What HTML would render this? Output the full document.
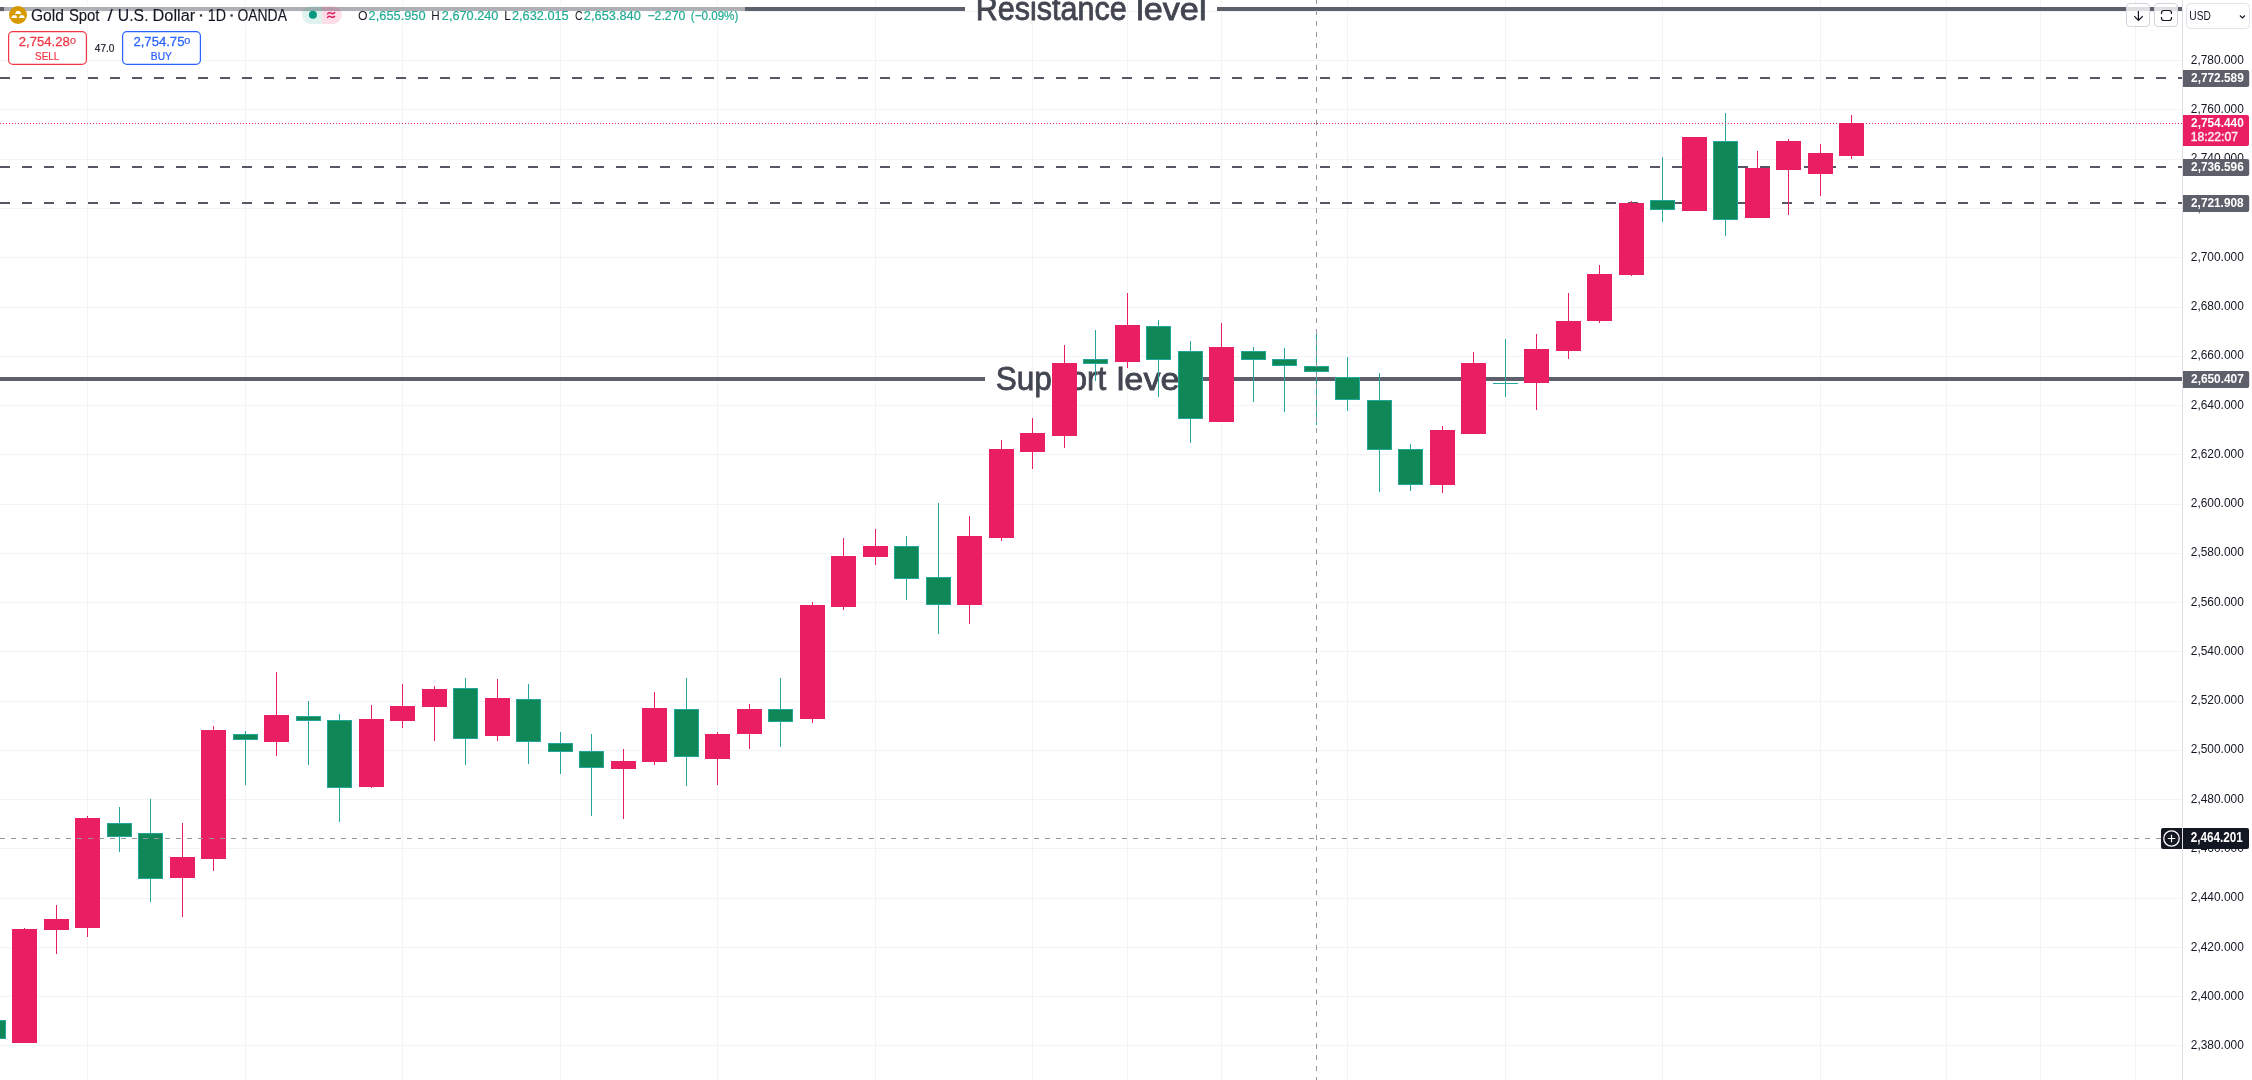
<!DOCTYPE html>
<html><head><meta charset="utf-8"><title>XAUUSD</title>
<style>html,body{margin:0;padding:0;background:#fff;overflow:hidden}body{width:2252px;height:1080px}svg{display:block;font-family:"Liberation Sans",sans-serif;will-change:transform}.c{shape-rendering:crispEdges}</style></head><body>
<svg width="2252" height="1080" viewBox="0 0 2252 1080">
<rect width="2252" height="1080" fill="#fff"/>
<g class="c" fill="#f2f3f3">
<rect x="87" y="0" width="1" height="1080"/>
<rect x="245" y="0" width="1" height="1080"/>
<rect x="402" y="0" width="1" height="1080"/>
<rect x="560" y="0" width="1" height="1080"/>
<rect x="717" y="0" width="1" height="1080"/>
<rect x="875" y="0" width="1" height="1080"/>
<rect x="1032" y="0" width="1" height="1080"/>
<rect x="1127" y="0" width="1" height="1080"/>
<rect x="1221" y="0" width="1" height="1080"/>
<rect x="1347" y="0" width="1" height="1080"/>
<rect x="1505" y="0" width="1" height="1080"/>
<rect x="1662" y="0" width="1" height="1080"/>
<rect x="1820" y="0" width="1" height="1080"/>
<rect x="1946" y="0" width="1" height="1080"/>
<rect x="2040" y="0" width="1" height="1080"/>
<rect x="2135" y="0" width="1" height="1080"/>
<rect x="0" y="11" width="2182" height="1"/>
<rect x="0" y="60" width="2182" height="1"/>
<rect x="0" y="109" width="2182" height="1"/>
<rect x="0" y="159" width="2182" height="1"/>
<rect x="0" y="208" width="2182" height="1"/>
<rect x="0" y="257" width="2182" height="1"/>
<rect x="0" y="307" width="2182" height="1"/>
<rect x="0" y="356" width="2182" height="1"/>
<rect x="0" y="405" width="2182" height="1"/>
<rect x="0" y="454" width="2182" height="1"/>
<rect x="0" y="504" width="2182" height="1"/>
<rect x="0" y="553" width="2182" height="1"/>
<rect x="0" y="602" width="2182" height="1"/>
<rect x="0" y="651" width="2182" height="1"/>
<rect x="0" y="701" width="2182" height="1"/>
<rect x="0" y="750" width="2182" height="1"/>
<rect x="0" y="799" width="2182" height="1"/>
<rect x="0" y="848" width="2182" height="1"/>
<rect x="0" y="898" width="2182" height="1"/>
<rect x="0" y="947" width="2182" height="1"/>
<rect x="0" y="996" width="2182" height="1"/>
<rect x="0" y="1045" width="2182" height="1"/>
</g>
<g class="c" fill="#5d606b">
<rect x="0" y="7" width="965" height="4"/>
<rect x="1217" y="7" width="965" height="4"/>
<rect x="0" y="377" width="985" height="4"/>
<rect x="1197" y="377" width="985" height="4"/>
</g>
<g class="c" fill="#555864">
<rect x="0" y="77" width="10" height="2"/>
<rect x="22" y="77" width="10" height="2"/>
<rect x="44" y="77" width="10" height="2"/>
<rect x="66" y="77" width="10" height="2"/>
<rect x="88" y="77" width="10" height="2"/>
<rect x="110" y="77" width="10" height="2"/>
<rect x="132" y="77" width="10" height="2"/>
<rect x="154" y="77" width="10" height="2"/>
<rect x="176" y="77" width="10" height="2"/>
<rect x="198" y="77" width="10" height="2"/>
<rect x="220" y="77" width="10" height="2"/>
<rect x="242" y="77" width="10" height="2"/>
<rect x="264" y="77" width="10" height="2"/>
<rect x="286" y="77" width="10" height="2"/>
<rect x="308" y="77" width="10" height="2"/>
<rect x="330" y="77" width="10" height="2"/>
<rect x="352" y="77" width="10" height="2"/>
<rect x="374" y="77" width="10" height="2"/>
<rect x="396" y="77" width="10" height="2"/>
<rect x="418" y="77" width="10" height="2"/>
<rect x="440" y="77" width="10" height="2"/>
<rect x="462" y="77" width="10" height="2"/>
<rect x="484" y="77" width="10" height="2"/>
<rect x="506" y="77" width="10" height="2"/>
<rect x="528" y="77" width="10" height="2"/>
<rect x="550" y="77" width="10" height="2"/>
<rect x="572" y="77" width="10" height="2"/>
<rect x="594" y="77" width="10" height="2"/>
<rect x="616" y="77" width="10" height="2"/>
<rect x="638" y="77" width="10" height="2"/>
<rect x="660" y="77" width="10" height="2"/>
<rect x="682" y="77" width="10" height="2"/>
<rect x="704" y="77" width="10" height="2"/>
<rect x="726" y="77" width="10" height="2"/>
<rect x="748" y="77" width="10" height="2"/>
<rect x="770" y="77" width="10" height="2"/>
<rect x="792" y="77" width="10" height="2"/>
<rect x="814" y="77" width="10" height="2"/>
<rect x="836" y="77" width="10" height="2"/>
<rect x="858" y="77" width="10" height="2"/>
<rect x="880" y="77" width="10" height="2"/>
<rect x="902" y="77" width="10" height="2"/>
<rect x="924" y="77" width="10" height="2"/>
<rect x="946" y="77" width="10" height="2"/>
<rect x="968" y="77" width="10" height="2"/>
<rect x="990" y="77" width="10" height="2"/>
<rect x="1012" y="77" width="10" height="2"/>
<rect x="1034" y="77" width="10" height="2"/>
<rect x="1056" y="77" width="10" height="2"/>
<rect x="1078" y="77" width="10" height="2"/>
<rect x="1100" y="77" width="10" height="2"/>
<rect x="1122" y="77" width="10" height="2"/>
<rect x="1144" y="77" width="10" height="2"/>
<rect x="1166" y="77" width="10" height="2"/>
<rect x="1188" y="77" width="10" height="2"/>
<rect x="1210" y="77" width="10" height="2"/>
<rect x="1232" y="77" width="10" height="2"/>
<rect x="1254" y="77" width="10" height="2"/>
<rect x="1276" y="77" width="10" height="2"/>
<rect x="1298" y="77" width="10" height="2"/>
<rect x="1320" y="77" width="10" height="2"/>
<rect x="1342" y="77" width="10" height="2"/>
<rect x="1364" y="77" width="10" height="2"/>
<rect x="1386" y="77" width="10" height="2"/>
<rect x="1408" y="77" width="10" height="2"/>
<rect x="1430" y="77" width="10" height="2"/>
<rect x="1452" y="77" width="10" height="2"/>
<rect x="1474" y="77" width="10" height="2"/>
<rect x="1496" y="77" width="10" height="2"/>
<rect x="1518" y="77" width="10" height="2"/>
<rect x="1540" y="77" width="10" height="2"/>
<rect x="1562" y="77" width="10" height="2"/>
<rect x="1584" y="77" width="10" height="2"/>
<rect x="1606" y="77" width="10" height="2"/>
<rect x="1628" y="77" width="10" height="2"/>
<rect x="1650" y="77" width="10" height="2"/>
<rect x="1672" y="77" width="10" height="2"/>
<rect x="1694" y="77" width="10" height="2"/>
<rect x="1716" y="77" width="10" height="2"/>
<rect x="1738" y="77" width="10" height="2"/>
<rect x="1760" y="77" width="10" height="2"/>
<rect x="1782" y="77" width="10" height="2"/>
<rect x="1804" y="77" width="10" height="2"/>
<rect x="1826" y="77" width="10" height="2"/>
<rect x="1848" y="77" width="10" height="2"/>
<rect x="1870" y="77" width="10" height="2"/>
<rect x="1892" y="77" width="10" height="2"/>
<rect x="1914" y="77" width="10" height="2"/>
<rect x="1936" y="77" width="10" height="2"/>
<rect x="1958" y="77" width="10" height="2"/>
<rect x="1980" y="77" width="10" height="2"/>
<rect x="2002" y="77" width="10" height="2"/>
<rect x="2024" y="77" width="10" height="2"/>
<rect x="2046" y="77" width="10" height="2"/>
<rect x="2068" y="77" width="10" height="2"/>
<rect x="2090" y="77" width="10" height="2"/>
<rect x="2112" y="77" width="10" height="2"/>
<rect x="2134" y="77" width="10" height="2"/>
<rect x="2156" y="77" width="10" height="2"/>
<rect x="2178" y="77" width="4" height="2"/>
<rect x="0" y="166" width="10" height="2"/>
<rect x="22" y="166" width="10" height="2"/>
<rect x="44" y="166" width="10" height="2"/>
<rect x="66" y="166" width="10" height="2"/>
<rect x="88" y="166" width="10" height="2"/>
<rect x="110" y="166" width="10" height="2"/>
<rect x="132" y="166" width="10" height="2"/>
<rect x="154" y="166" width="10" height="2"/>
<rect x="176" y="166" width="10" height="2"/>
<rect x="198" y="166" width="10" height="2"/>
<rect x="220" y="166" width="10" height="2"/>
<rect x="242" y="166" width="10" height="2"/>
<rect x="264" y="166" width="10" height="2"/>
<rect x="286" y="166" width="10" height="2"/>
<rect x="308" y="166" width="10" height="2"/>
<rect x="330" y="166" width="10" height="2"/>
<rect x="352" y="166" width="10" height="2"/>
<rect x="374" y="166" width="10" height="2"/>
<rect x="396" y="166" width="10" height="2"/>
<rect x="418" y="166" width="10" height="2"/>
<rect x="440" y="166" width="10" height="2"/>
<rect x="462" y="166" width="10" height="2"/>
<rect x="484" y="166" width="10" height="2"/>
<rect x="506" y="166" width="10" height="2"/>
<rect x="528" y="166" width="10" height="2"/>
<rect x="550" y="166" width="10" height="2"/>
<rect x="572" y="166" width="10" height="2"/>
<rect x="594" y="166" width="10" height="2"/>
<rect x="616" y="166" width="10" height="2"/>
<rect x="638" y="166" width="10" height="2"/>
<rect x="660" y="166" width="10" height="2"/>
<rect x="682" y="166" width="10" height="2"/>
<rect x="704" y="166" width="10" height="2"/>
<rect x="726" y="166" width="10" height="2"/>
<rect x="748" y="166" width="10" height="2"/>
<rect x="770" y="166" width="10" height="2"/>
<rect x="792" y="166" width="10" height="2"/>
<rect x="814" y="166" width="10" height="2"/>
<rect x="836" y="166" width="10" height="2"/>
<rect x="858" y="166" width="10" height="2"/>
<rect x="880" y="166" width="10" height="2"/>
<rect x="902" y="166" width="10" height="2"/>
<rect x="924" y="166" width="10" height="2"/>
<rect x="946" y="166" width="10" height="2"/>
<rect x="968" y="166" width="10" height="2"/>
<rect x="990" y="166" width="10" height="2"/>
<rect x="1012" y="166" width="10" height="2"/>
<rect x="1034" y="166" width="10" height="2"/>
<rect x="1056" y="166" width="10" height="2"/>
<rect x="1078" y="166" width="10" height="2"/>
<rect x="1100" y="166" width="10" height="2"/>
<rect x="1122" y="166" width="10" height="2"/>
<rect x="1144" y="166" width="10" height="2"/>
<rect x="1166" y="166" width="10" height="2"/>
<rect x="1188" y="166" width="10" height="2"/>
<rect x="1210" y="166" width="10" height="2"/>
<rect x="1232" y="166" width="10" height="2"/>
<rect x="1254" y="166" width="10" height="2"/>
<rect x="1276" y="166" width="10" height="2"/>
<rect x="1298" y="166" width="10" height="2"/>
<rect x="1320" y="166" width="10" height="2"/>
<rect x="1342" y="166" width="10" height="2"/>
<rect x="1364" y="166" width="10" height="2"/>
<rect x="1386" y="166" width="10" height="2"/>
<rect x="1408" y="166" width="10" height="2"/>
<rect x="1430" y="166" width="10" height="2"/>
<rect x="1452" y="166" width="10" height="2"/>
<rect x="1474" y="166" width="10" height="2"/>
<rect x="1496" y="166" width="10" height="2"/>
<rect x="1518" y="166" width="10" height="2"/>
<rect x="1540" y="166" width="10" height="2"/>
<rect x="1562" y="166" width="10" height="2"/>
<rect x="1584" y="166" width="10" height="2"/>
<rect x="1606" y="166" width="10" height="2"/>
<rect x="1628" y="166" width="10" height="2"/>
<rect x="1650" y="166" width="10" height="2"/>
<rect x="1672" y="166" width="10" height="2"/>
<rect x="1694" y="166" width="10" height="2"/>
<rect x="1716" y="166" width="10" height="2"/>
<rect x="1738" y="166" width="10" height="2"/>
<rect x="1760" y="166" width="10" height="2"/>
<rect x="1782" y="166" width="10" height="2"/>
<rect x="1804" y="166" width="10" height="2"/>
<rect x="1826" y="166" width="10" height="2"/>
<rect x="1848" y="166" width="10" height="2"/>
<rect x="1870" y="166" width="10" height="2"/>
<rect x="1892" y="166" width="10" height="2"/>
<rect x="1914" y="166" width="10" height="2"/>
<rect x="1936" y="166" width="10" height="2"/>
<rect x="1958" y="166" width="10" height="2"/>
<rect x="1980" y="166" width="10" height="2"/>
<rect x="2002" y="166" width="10" height="2"/>
<rect x="2024" y="166" width="10" height="2"/>
<rect x="2046" y="166" width="10" height="2"/>
<rect x="2068" y="166" width="10" height="2"/>
<rect x="2090" y="166" width="10" height="2"/>
<rect x="2112" y="166" width="10" height="2"/>
<rect x="2134" y="166" width="10" height="2"/>
<rect x="2156" y="166" width="10" height="2"/>
<rect x="2178" y="166" width="4" height="2"/>
<rect x="0" y="202" width="10" height="2"/>
<rect x="22" y="202" width="10" height="2"/>
<rect x="44" y="202" width="10" height="2"/>
<rect x="66" y="202" width="10" height="2"/>
<rect x="88" y="202" width="10" height="2"/>
<rect x="110" y="202" width="10" height="2"/>
<rect x="132" y="202" width="10" height="2"/>
<rect x="154" y="202" width="10" height="2"/>
<rect x="176" y="202" width="10" height="2"/>
<rect x="198" y="202" width="10" height="2"/>
<rect x="220" y="202" width="10" height="2"/>
<rect x="242" y="202" width="10" height="2"/>
<rect x="264" y="202" width="10" height="2"/>
<rect x="286" y="202" width="10" height="2"/>
<rect x="308" y="202" width="10" height="2"/>
<rect x="330" y="202" width="10" height="2"/>
<rect x="352" y="202" width="10" height="2"/>
<rect x="374" y="202" width="10" height="2"/>
<rect x="396" y="202" width="10" height="2"/>
<rect x="418" y="202" width="10" height="2"/>
<rect x="440" y="202" width="10" height="2"/>
<rect x="462" y="202" width="10" height="2"/>
<rect x="484" y="202" width="10" height="2"/>
<rect x="506" y="202" width="10" height="2"/>
<rect x="528" y="202" width="10" height="2"/>
<rect x="550" y="202" width="10" height="2"/>
<rect x="572" y="202" width="10" height="2"/>
<rect x="594" y="202" width="10" height="2"/>
<rect x="616" y="202" width="10" height="2"/>
<rect x="638" y="202" width="10" height="2"/>
<rect x="660" y="202" width="10" height="2"/>
<rect x="682" y="202" width="10" height="2"/>
<rect x="704" y="202" width="10" height="2"/>
<rect x="726" y="202" width="10" height="2"/>
<rect x="748" y="202" width="10" height="2"/>
<rect x="770" y="202" width="10" height="2"/>
<rect x="792" y="202" width="10" height="2"/>
<rect x="814" y="202" width="10" height="2"/>
<rect x="836" y="202" width="10" height="2"/>
<rect x="858" y="202" width="10" height="2"/>
<rect x="880" y="202" width="10" height="2"/>
<rect x="902" y="202" width="10" height="2"/>
<rect x="924" y="202" width="10" height="2"/>
<rect x="946" y="202" width="10" height="2"/>
<rect x="968" y="202" width="10" height="2"/>
<rect x="990" y="202" width="10" height="2"/>
<rect x="1012" y="202" width="10" height="2"/>
<rect x="1034" y="202" width="10" height="2"/>
<rect x="1056" y="202" width="10" height="2"/>
<rect x="1078" y="202" width="10" height="2"/>
<rect x="1100" y="202" width="10" height="2"/>
<rect x="1122" y="202" width="10" height="2"/>
<rect x="1144" y="202" width="10" height="2"/>
<rect x="1166" y="202" width="10" height="2"/>
<rect x="1188" y="202" width="10" height="2"/>
<rect x="1210" y="202" width="10" height="2"/>
<rect x="1232" y="202" width="10" height="2"/>
<rect x="1254" y="202" width="10" height="2"/>
<rect x="1276" y="202" width="10" height="2"/>
<rect x="1298" y="202" width="10" height="2"/>
<rect x="1320" y="202" width="10" height="2"/>
<rect x="1342" y="202" width="10" height="2"/>
<rect x="1364" y="202" width="10" height="2"/>
<rect x="1386" y="202" width="10" height="2"/>
<rect x="1408" y="202" width="10" height="2"/>
<rect x="1430" y="202" width="10" height="2"/>
<rect x="1452" y="202" width="10" height="2"/>
<rect x="1474" y="202" width="10" height="2"/>
<rect x="1496" y="202" width="10" height="2"/>
<rect x="1518" y="202" width="10" height="2"/>
<rect x="1540" y="202" width="10" height="2"/>
<rect x="1562" y="202" width="10" height="2"/>
<rect x="1584" y="202" width="10" height="2"/>
<rect x="1606" y="202" width="10" height="2"/>
<rect x="1628" y="202" width="10" height="2"/>
<rect x="1650" y="202" width="10" height="2"/>
<rect x="1672" y="202" width="10" height="2"/>
<rect x="1694" y="202" width="10" height="2"/>
<rect x="1716" y="202" width="10" height="2"/>
<rect x="1738" y="202" width="10" height="2"/>
<rect x="1760" y="202" width="10" height="2"/>
<rect x="1782" y="202" width="10" height="2"/>
<rect x="1804" y="202" width="10" height="2"/>
<rect x="1826" y="202" width="10" height="2"/>
<rect x="1848" y="202" width="10" height="2"/>
<rect x="1870" y="202" width="10" height="2"/>
<rect x="1892" y="202" width="10" height="2"/>
<rect x="1914" y="202" width="10" height="2"/>
<rect x="1936" y="202" width="10" height="2"/>
<rect x="1958" y="202" width="10" height="2"/>
<rect x="1980" y="202" width="10" height="2"/>
<rect x="2002" y="202" width="10" height="2"/>
<rect x="2024" y="202" width="10" height="2"/>
<rect x="2046" y="202" width="10" height="2"/>
<rect x="2068" y="202" width="10" height="2"/>
<rect x="2090" y="202" width="10" height="2"/>
<rect x="2112" y="202" width="10" height="2"/>
<rect x="2134" y="202" width="10" height="2"/>
<rect x="2156" y="202" width="10" height="2"/>
<rect x="2178" y="202" width="4" height="2"/>
</g>
<text transform="translate(975.76 19.60) scale(0.15254 0.16667)" font-size="200" fill="#434651" stroke="#434651" stroke-width="5">Resistance</text>
<text transform="translate(1136.18 19.60) scale(0.17098 0.15862)" font-size="200" fill="#434651" stroke="#434651" stroke-width="5">level</text>
<text transform="translate(995.78 390.00) scale(0.15774 0.16429)" font-size="200" fill="#434651" stroke="#434651" stroke-width="5">Support</text>
<text transform="translate(1116.78 390.00) scale(0.17098 0.16138)" font-size="200" fill="#434651" stroke="#434651" stroke-width="5">level</text>
<g class="c">
<rect x="-7" y="1020" width="1" height="19" fill="#26a69a"/>
<rect x="-19" y="1020" width="25" height="19" fill="#26a69a"/>
<rect x="-18" y="1021" width="23" height="17" fill="#0f8756"/>
<rect x="24" y="928" width="1" height="115" fill="#e91e63"/>
<rect x="12" y="929" width="25" height="114" fill="#e91e63"/>
<rect x="56" y="905" width="1" height="49" fill="#e91e63"/>
<rect x="44" y="919" width="25" height="11" fill="#e91e63"/>
<rect x="87" y="816" width="1" height="121" fill="#e91e63"/>
<rect x="75" y="818" width="25" height="110" fill="#e91e63"/>
<rect x="119" y="807" width="1" height="45" fill="#26a69a"/>
<rect x="107" y="823" width="25" height="14" fill="#26a69a"/>
<rect x="108" y="824" width="23" height="12" fill="#0f8756"/>
<rect x="150" y="799" width="1" height="103" fill="#26a69a"/>
<rect x="138" y="833" width="25" height="46" fill="#26a69a"/>
<rect x="139" y="834" width="23" height="44" fill="#0f8756"/>
<rect x="182" y="823" width="1" height="94" fill="#e91e63"/>
<rect x="170" y="857" width="25" height="21" fill="#e91e63"/>
<rect x="213" y="726" width="1" height="145" fill="#e91e63"/>
<rect x="201" y="730" width="25" height="129" fill="#e91e63"/>
<rect x="245" y="731" width="1" height="54" fill="#26a69a"/>
<rect x="233" y="734" width="25" height="6" fill="#26a69a"/>
<rect x="234" y="735" width="23" height="4" fill="#0f8756"/>
<rect x="276" y="672" width="1" height="84" fill="#e91e63"/>
<rect x="264" y="715" width="25" height="27" fill="#e91e63"/>
<rect x="308" y="701" width="1" height="64" fill="#26a69a"/>
<rect x="296" y="716" width="25" height="5" fill="#26a69a"/>
<rect x="297" y="717" width="23" height="3" fill="#0f8756"/>
<rect x="339" y="714" width="1" height="108" fill="#26a69a"/>
<rect x="327" y="720" width="25" height="68" fill="#26a69a"/>
<rect x="328" y="721" width="23" height="66" fill="#0f8756"/>
<rect x="371" y="705" width="1" height="83" fill="#e91e63"/>
<rect x="359" y="719" width="25" height="68" fill="#e91e63"/>
<rect x="402" y="684" width="1" height="44" fill="#e91e63"/>
<rect x="390" y="706" width="25" height="15" fill="#e91e63"/>
<rect x="434" y="686" width="1" height="55" fill="#e91e63"/>
<rect x="422" y="689" width="25" height="18" fill="#e91e63"/>
<rect x="465" y="678" width="1" height="87" fill="#26a69a"/>
<rect x="453" y="688" width="25" height="51" fill="#26a69a"/>
<rect x="454" y="689" width="23" height="49" fill="#0f8756"/>
<rect x="497" y="679" width="1" height="62" fill="#e91e63"/>
<rect x="485" y="698" width="25" height="38" fill="#e91e63"/>
<rect x="528" y="684" width="1" height="80" fill="#26a69a"/>
<rect x="516" y="699" width="25" height="43" fill="#26a69a"/>
<rect x="517" y="700" width="23" height="41" fill="#0f8756"/>
<rect x="560" y="732" width="1" height="42" fill="#26a69a"/>
<rect x="548" y="743" width="25" height="9" fill="#26a69a"/>
<rect x="549" y="744" width="23" height="7" fill="#0f8756"/>
<rect x="591" y="734" width="1" height="82" fill="#26a69a"/>
<rect x="579" y="751" width="25" height="17" fill="#26a69a"/>
<rect x="580" y="752" width="23" height="15" fill="#0f8756"/>
<rect x="623" y="749" width="1" height="70" fill="#e91e63"/>
<rect x="611" y="761" width="25" height="8" fill="#e91e63"/>
<rect x="654" y="692" width="1" height="73" fill="#e91e63"/>
<rect x="642" y="708" width="25" height="54" fill="#e91e63"/>
<rect x="686" y="678" width="1" height="108" fill="#26a69a"/>
<rect x="674" y="709" width="25" height="48" fill="#26a69a"/>
<rect x="675" y="710" width="23" height="46" fill="#0f8756"/>
<rect x="717" y="732" width="1" height="53" fill="#e91e63"/>
<rect x="705" y="734" width="25" height="25" fill="#e91e63"/>
<rect x="749" y="704" width="1" height="45" fill="#e91e63"/>
<rect x="737" y="709" width="25" height="25" fill="#e91e63"/>
<rect x="780" y="678" width="1" height="69" fill="#26a69a"/>
<rect x="768" y="709" width="25" height="13" fill="#26a69a"/>
<rect x="769" y="710" width="23" height="11" fill="#0f8756"/>
<rect x="812" y="602" width="1" height="121" fill="#e91e63"/>
<rect x="800" y="605" width="25" height="114" fill="#e91e63"/>
<rect x="843" y="538" width="1" height="72" fill="#e91e63"/>
<rect x="831" y="556" width="25" height="51" fill="#e91e63"/>
<rect x="875" y="529" width="1" height="36" fill="#e91e63"/>
<rect x="863" y="546" width="25" height="11" fill="#e91e63"/>
<rect x="906" y="536" width="1" height="64" fill="#26a69a"/>
<rect x="894" y="546" width="25" height="33" fill="#26a69a"/>
<rect x="895" y="547" width="23" height="31" fill="#0f8756"/>
<rect x="938" y="503" width="1" height="131" fill="#26a69a"/>
<rect x="926" y="577" width="25" height="28" fill="#26a69a"/>
<rect x="927" y="578" width="23" height="26" fill="#0f8756"/>
<rect x="969" y="516" width="1" height="108" fill="#e91e63"/>
<rect x="957" y="536" width="25" height="69" fill="#e91e63"/>
<rect x="1001" y="440" width="1" height="101" fill="#e91e63"/>
<rect x="989" y="449" width="25" height="89" fill="#e91e63"/>
<rect x="1032" y="418" width="1" height="51" fill="#e91e63"/>
<rect x="1020" y="433" width="25" height="19" fill="#e91e63"/>
<rect x="1064" y="345" width="1" height="103" fill="#e91e63"/>
<rect x="1052" y="363" width="25" height="73" fill="#e91e63"/>
<rect x="1095" y="330" width="1" height="51" fill="#26a69a"/>
<rect x="1083" y="359" width="25" height="5" fill="#26a69a"/>
<rect x="1084" y="360" width="23" height="3" fill="#0f8756"/>
<rect x="1127" y="293" width="1" height="75" fill="#e91e63"/>
<rect x="1115" y="325" width="25" height="37" fill="#e91e63"/>
<rect x="1158" y="320" width="1" height="77" fill="#26a69a"/>
<rect x="1146" y="326" width="25" height="34" fill="#26a69a"/>
<rect x="1147" y="327" width="23" height="32" fill="#0f8756"/>
<rect x="1190" y="341" width="1" height="102" fill="#26a69a"/>
<rect x="1178" y="351" width="25" height="68" fill="#26a69a"/>
<rect x="1179" y="352" width="23" height="66" fill="#0f8756"/>
<rect x="1221" y="323" width="1" height="99" fill="#e91e63"/>
<rect x="1209" y="347" width="25" height="75" fill="#e91e63"/>
<rect x="1253" y="347" width="1" height="55" fill="#26a69a"/>
<rect x="1241" y="351" width="25" height="9" fill="#26a69a"/>
<rect x="1242" y="352" width="23" height="7" fill="#0f8756"/>
<rect x="1284" y="348" width="1" height="64" fill="#26a69a"/>
<rect x="1272" y="359" width="25" height="7" fill="#26a69a"/>
<rect x="1273" y="360" width="23" height="5" fill="#0f8756"/>
<rect x="1316" y="331" width="1" height="94" fill="#26a69a"/>
<rect x="1304" y="366" width="25" height="6" fill="#26a69a"/>
<rect x="1305" y="367" width="23" height="4" fill="#0f8756"/>
<rect x="1347" y="357" width="1" height="54" fill="#26a69a"/>
<rect x="1335" y="377" width="25" height="23" fill="#26a69a"/>
<rect x="1336" y="378" width="23" height="21" fill="#0f8756"/>
<rect x="1379" y="373" width="1" height="119" fill="#26a69a"/>
<rect x="1367" y="400" width="25" height="50" fill="#26a69a"/>
<rect x="1368" y="401" width="23" height="48" fill="#0f8756"/>
<rect x="1410" y="444" width="1" height="47" fill="#26a69a"/>
<rect x="1398" y="449" width="25" height="36" fill="#26a69a"/>
<rect x="1399" y="450" width="23" height="34" fill="#0f8756"/>
<rect x="1442" y="426" width="1" height="67" fill="#e91e63"/>
<rect x="1430" y="430" width="25" height="55" fill="#e91e63"/>
<rect x="1473" y="352" width="1" height="82" fill="#e91e63"/>
<rect x="1461" y="363" width="25" height="71" fill="#e91e63"/>
<rect x="1505" y="339" width="1" height="58" fill="#26a69a"/>
<rect x="1493" y="383" width="25" height="1" fill="#26a69a"/>
<rect x="1536" y="334" width="1" height="76" fill="#e91e63"/>
<rect x="1524" y="349" width="25" height="34" fill="#e91e63"/>
<rect x="1568" y="293" width="1" height="66" fill="#e91e63"/>
<rect x="1556" y="321" width="25" height="30" fill="#e91e63"/>
<rect x="1599" y="265" width="1" height="58" fill="#e91e63"/>
<rect x="1587" y="274" width="25" height="47" fill="#e91e63"/>
<rect x="1631" y="201" width="1" height="75" fill="#e91e63"/>
<rect x="1619" y="203" width="25" height="72" fill="#e91e63"/>
<rect x="1662" y="157" width="1" height="65" fill="#26a69a"/>
<rect x="1650" y="200" width="25" height="10" fill="#26a69a"/>
<rect x="1651" y="201" width="23" height="8" fill="#0f8756"/>
<rect x="1694" y="137" width="1" height="74" fill="#e91e63"/>
<rect x="1682" y="137" width="25" height="74" fill="#e91e63"/>
<rect x="1725" y="113" width="1" height="123" fill="#26a69a"/>
<rect x="1713" y="141" width="25" height="79" fill="#26a69a"/>
<rect x="1714" y="142" width="23" height="77" fill="#0f8756"/>
<rect x="1757" y="151" width="1" height="67" fill="#e91e63"/>
<rect x="1745" y="168" width="25" height="50" fill="#e91e63"/>
<rect x="1788" y="139" width="1" height="76" fill="#e91e63"/>
<rect x="1776" y="141" width="25" height="29" fill="#e91e63"/>
<rect x="1820" y="144" width="1" height="52" fill="#e91e63"/>
<rect x="1808" y="153" width="25" height="21" fill="#e91e63"/>
<rect x="1851" y="115" width="1" height="44" fill="#e91e63"/>
<rect x="1839" y="123" width="25" height="33" fill="#e91e63"/>
</g>
<g class="c" fill="#e91e63">
<path d="M0 123h1v1h-1zM3 123h1v1h-1zM6 123h1v1h-1zM9 123h1v1h-1zM12 123h1v1h-1zM15 123h1v1h-1zM18 123h1v1h-1zM21 123h1v1h-1zM24 123h1v1h-1zM27 123h1v1h-1zM30 123h1v1h-1zM33 123h1v1h-1zM36 123h1v1h-1zM39 123h1v1h-1zM42 123h1v1h-1zM45 123h1v1h-1zM48 123h1v1h-1zM51 123h1v1h-1zM54 123h1v1h-1zM57 123h1v1h-1zM60 123h1v1h-1zM63 123h1v1h-1zM66 123h1v1h-1zM69 123h1v1h-1zM72 123h1v1h-1zM75 123h1v1h-1zM78 123h1v1h-1zM81 123h1v1h-1zM84 123h1v1h-1zM87 123h1v1h-1zM90 123h1v1h-1zM93 123h1v1h-1zM96 123h1v1h-1zM99 123h1v1h-1zM102 123h1v1h-1zM105 123h1v1h-1zM108 123h1v1h-1zM111 123h1v1h-1zM114 123h1v1h-1zM117 123h1v1h-1zM120 123h1v1h-1zM123 123h1v1h-1zM126 123h1v1h-1zM129 123h1v1h-1zM132 123h1v1h-1zM135 123h1v1h-1zM138 123h1v1h-1zM141 123h1v1h-1zM144 123h1v1h-1zM147 123h1v1h-1zM150 123h1v1h-1zM153 123h1v1h-1zM156 123h1v1h-1zM159 123h1v1h-1zM162 123h1v1h-1zM165 123h1v1h-1zM168 123h1v1h-1zM171 123h1v1h-1zM174 123h1v1h-1zM177 123h1v1h-1zM180 123h1v1h-1zM183 123h1v1h-1zM186 123h1v1h-1zM189 123h1v1h-1zM192 123h1v1h-1zM195 123h1v1h-1zM198 123h1v1h-1zM201 123h1v1h-1zM204 123h1v1h-1zM207 123h1v1h-1zM210 123h1v1h-1zM213 123h1v1h-1zM216 123h1v1h-1zM219 123h1v1h-1zM222 123h1v1h-1zM225 123h1v1h-1zM228 123h1v1h-1zM231 123h1v1h-1zM234 123h1v1h-1zM237 123h1v1h-1zM240 123h1v1h-1zM243 123h1v1h-1zM246 123h1v1h-1zM249 123h1v1h-1zM252 123h1v1h-1zM255 123h1v1h-1zM258 123h1v1h-1zM261 123h1v1h-1zM264 123h1v1h-1zM267 123h1v1h-1zM270 123h1v1h-1zM273 123h1v1h-1zM276 123h1v1h-1zM279 123h1v1h-1zM282 123h1v1h-1zM285 123h1v1h-1zM288 123h1v1h-1zM291 123h1v1h-1zM294 123h1v1h-1zM297 123h1v1h-1zM300 123h1v1h-1zM303 123h1v1h-1zM306 123h1v1h-1zM309 123h1v1h-1zM312 123h1v1h-1zM315 123h1v1h-1zM318 123h1v1h-1zM321 123h1v1h-1zM324 123h1v1h-1zM327 123h1v1h-1zM330 123h1v1h-1zM333 123h1v1h-1zM336 123h1v1h-1zM339 123h1v1h-1zM342 123h1v1h-1zM345 123h1v1h-1zM348 123h1v1h-1zM351 123h1v1h-1zM354 123h1v1h-1zM357 123h1v1h-1zM360 123h1v1h-1zM363 123h1v1h-1zM366 123h1v1h-1zM369 123h1v1h-1zM372 123h1v1h-1zM375 123h1v1h-1zM378 123h1v1h-1zM381 123h1v1h-1zM384 123h1v1h-1zM387 123h1v1h-1zM390 123h1v1h-1zM393 123h1v1h-1zM396 123h1v1h-1zM399 123h1v1h-1zM402 123h1v1h-1zM405 123h1v1h-1zM408 123h1v1h-1zM411 123h1v1h-1zM414 123h1v1h-1zM417 123h1v1h-1zM420 123h1v1h-1zM423 123h1v1h-1zM426 123h1v1h-1zM429 123h1v1h-1zM432 123h1v1h-1zM435 123h1v1h-1zM438 123h1v1h-1zM441 123h1v1h-1zM444 123h1v1h-1zM447 123h1v1h-1zM450 123h1v1h-1zM453 123h1v1h-1zM456 123h1v1h-1zM459 123h1v1h-1zM462 123h1v1h-1zM465 123h1v1h-1zM468 123h1v1h-1zM471 123h1v1h-1zM474 123h1v1h-1zM477 123h1v1h-1zM480 123h1v1h-1zM483 123h1v1h-1zM486 123h1v1h-1zM489 123h1v1h-1zM492 123h1v1h-1zM495 123h1v1h-1zM498 123h1v1h-1zM501 123h1v1h-1zM504 123h1v1h-1zM507 123h1v1h-1zM510 123h1v1h-1zM513 123h1v1h-1zM516 123h1v1h-1zM519 123h1v1h-1zM522 123h1v1h-1zM525 123h1v1h-1zM528 123h1v1h-1zM531 123h1v1h-1zM534 123h1v1h-1zM537 123h1v1h-1zM540 123h1v1h-1zM543 123h1v1h-1zM546 123h1v1h-1zM549 123h1v1h-1zM552 123h1v1h-1zM555 123h1v1h-1zM558 123h1v1h-1zM561 123h1v1h-1zM564 123h1v1h-1zM567 123h1v1h-1zM570 123h1v1h-1zM573 123h1v1h-1zM576 123h1v1h-1zM579 123h1v1h-1zM582 123h1v1h-1zM585 123h1v1h-1zM588 123h1v1h-1zM591 123h1v1h-1zM594 123h1v1h-1zM597 123h1v1h-1zM600 123h1v1h-1zM603 123h1v1h-1zM606 123h1v1h-1zM609 123h1v1h-1zM612 123h1v1h-1zM615 123h1v1h-1zM618 123h1v1h-1zM621 123h1v1h-1zM624 123h1v1h-1zM627 123h1v1h-1zM630 123h1v1h-1zM633 123h1v1h-1zM636 123h1v1h-1zM639 123h1v1h-1zM642 123h1v1h-1zM645 123h1v1h-1zM648 123h1v1h-1zM651 123h1v1h-1zM654 123h1v1h-1zM657 123h1v1h-1zM660 123h1v1h-1zM663 123h1v1h-1zM666 123h1v1h-1zM669 123h1v1h-1zM672 123h1v1h-1zM675 123h1v1h-1zM678 123h1v1h-1zM681 123h1v1h-1zM684 123h1v1h-1zM687 123h1v1h-1zM690 123h1v1h-1zM693 123h1v1h-1zM696 123h1v1h-1zM699 123h1v1h-1zM702 123h1v1h-1zM705 123h1v1h-1zM708 123h1v1h-1zM711 123h1v1h-1zM714 123h1v1h-1zM717 123h1v1h-1zM720 123h1v1h-1zM723 123h1v1h-1zM726 123h1v1h-1zM729 123h1v1h-1zM732 123h1v1h-1zM735 123h1v1h-1zM738 123h1v1h-1zM741 123h1v1h-1zM744 123h1v1h-1zM747 123h1v1h-1zM750 123h1v1h-1zM753 123h1v1h-1zM756 123h1v1h-1zM759 123h1v1h-1zM762 123h1v1h-1zM765 123h1v1h-1zM768 123h1v1h-1zM771 123h1v1h-1zM774 123h1v1h-1zM777 123h1v1h-1zM780 123h1v1h-1zM783 123h1v1h-1zM786 123h1v1h-1zM789 123h1v1h-1zM792 123h1v1h-1zM795 123h1v1h-1zM798 123h1v1h-1zM801 123h1v1h-1zM804 123h1v1h-1zM807 123h1v1h-1zM810 123h1v1h-1zM813 123h1v1h-1zM816 123h1v1h-1zM819 123h1v1h-1zM822 123h1v1h-1zM825 123h1v1h-1zM828 123h1v1h-1zM831 123h1v1h-1zM834 123h1v1h-1zM837 123h1v1h-1zM840 123h1v1h-1zM843 123h1v1h-1zM846 123h1v1h-1zM849 123h1v1h-1zM852 123h1v1h-1zM855 123h1v1h-1zM858 123h1v1h-1zM861 123h1v1h-1zM864 123h1v1h-1zM867 123h1v1h-1zM870 123h1v1h-1zM873 123h1v1h-1zM876 123h1v1h-1zM879 123h1v1h-1zM882 123h1v1h-1zM885 123h1v1h-1zM888 123h1v1h-1zM891 123h1v1h-1zM894 123h1v1h-1zM897 123h1v1h-1zM900 123h1v1h-1zM903 123h1v1h-1zM906 123h1v1h-1zM909 123h1v1h-1zM912 123h1v1h-1zM915 123h1v1h-1zM918 123h1v1h-1zM921 123h1v1h-1zM924 123h1v1h-1zM927 123h1v1h-1zM930 123h1v1h-1zM933 123h1v1h-1zM936 123h1v1h-1zM939 123h1v1h-1zM942 123h1v1h-1zM945 123h1v1h-1zM948 123h1v1h-1zM951 123h1v1h-1zM954 123h1v1h-1zM957 123h1v1h-1zM960 123h1v1h-1zM963 123h1v1h-1zM966 123h1v1h-1zM969 123h1v1h-1zM972 123h1v1h-1zM975 123h1v1h-1zM978 123h1v1h-1zM981 123h1v1h-1zM984 123h1v1h-1zM987 123h1v1h-1zM990 123h1v1h-1zM993 123h1v1h-1zM996 123h1v1h-1zM999 123h1v1h-1zM1002 123h1v1h-1zM1005 123h1v1h-1zM1008 123h1v1h-1zM1011 123h1v1h-1zM1014 123h1v1h-1zM1017 123h1v1h-1zM1020 123h1v1h-1zM1023 123h1v1h-1zM1026 123h1v1h-1zM1029 123h1v1h-1zM1032 123h1v1h-1zM1035 123h1v1h-1zM1038 123h1v1h-1zM1041 123h1v1h-1zM1044 123h1v1h-1zM1047 123h1v1h-1zM1050 123h1v1h-1zM1053 123h1v1h-1zM1056 123h1v1h-1zM1059 123h1v1h-1zM1062 123h1v1h-1zM1065 123h1v1h-1zM1068 123h1v1h-1zM1071 123h1v1h-1zM1074 123h1v1h-1zM1077 123h1v1h-1zM1080 123h1v1h-1zM1083 123h1v1h-1zM1086 123h1v1h-1zM1089 123h1v1h-1zM1092 123h1v1h-1zM1095 123h1v1h-1zM1098 123h1v1h-1zM1101 123h1v1h-1zM1104 123h1v1h-1zM1107 123h1v1h-1zM1110 123h1v1h-1zM1113 123h1v1h-1zM1116 123h1v1h-1zM1119 123h1v1h-1zM1122 123h1v1h-1zM1125 123h1v1h-1zM1128 123h1v1h-1zM1131 123h1v1h-1zM1134 123h1v1h-1zM1137 123h1v1h-1zM1140 123h1v1h-1zM1143 123h1v1h-1zM1146 123h1v1h-1zM1149 123h1v1h-1zM1152 123h1v1h-1zM1155 123h1v1h-1zM1158 123h1v1h-1zM1161 123h1v1h-1zM1164 123h1v1h-1zM1167 123h1v1h-1zM1170 123h1v1h-1zM1173 123h1v1h-1zM1176 123h1v1h-1zM1179 123h1v1h-1zM1182 123h1v1h-1zM1185 123h1v1h-1zM1188 123h1v1h-1zM1191 123h1v1h-1zM1194 123h1v1h-1zM1197 123h1v1h-1zM1200 123h1v1h-1zM1203 123h1v1h-1zM1206 123h1v1h-1zM1209 123h1v1h-1zM1212 123h1v1h-1zM1215 123h1v1h-1zM1218 123h1v1h-1zM1221 123h1v1h-1zM1224 123h1v1h-1zM1227 123h1v1h-1zM1230 123h1v1h-1zM1233 123h1v1h-1zM1236 123h1v1h-1zM1239 123h1v1h-1zM1242 123h1v1h-1zM1245 123h1v1h-1zM1248 123h1v1h-1zM1251 123h1v1h-1zM1254 123h1v1h-1zM1257 123h1v1h-1zM1260 123h1v1h-1zM1263 123h1v1h-1zM1266 123h1v1h-1zM1269 123h1v1h-1zM1272 123h1v1h-1zM1275 123h1v1h-1zM1278 123h1v1h-1zM1281 123h1v1h-1zM1284 123h1v1h-1zM1287 123h1v1h-1zM1290 123h1v1h-1zM1293 123h1v1h-1zM1296 123h1v1h-1zM1299 123h1v1h-1zM1302 123h1v1h-1zM1305 123h1v1h-1zM1308 123h1v1h-1zM1311 123h1v1h-1zM1314 123h1v1h-1zM1317 123h1v1h-1zM1320 123h1v1h-1zM1323 123h1v1h-1zM1326 123h1v1h-1zM1329 123h1v1h-1zM1332 123h1v1h-1zM1335 123h1v1h-1zM1338 123h1v1h-1zM1341 123h1v1h-1zM1344 123h1v1h-1zM1347 123h1v1h-1zM1350 123h1v1h-1zM1353 123h1v1h-1zM1356 123h1v1h-1zM1359 123h1v1h-1zM1362 123h1v1h-1zM1365 123h1v1h-1zM1368 123h1v1h-1zM1371 123h1v1h-1zM1374 123h1v1h-1zM1377 123h1v1h-1zM1380 123h1v1h-1zM1383 123h1v1h-1zM1386 123h1v1h-1zM1389 123h1v1h-1zM1392 123h1v1h-1zM1395 123h1v1h-1zM1398 123h1v1h-1zM1401 123h1v1h-1zM1404 123h1v1h-1zM1407 123h1v1h-1zM1410 123h1v1h-1zM1413 123h1v1h-1zM1416 123h1v1h-1zM1419 123h1v1h-1zM1422 123h1v1h-1zM1425 123h1v1h-1zM1428 123h1v1h-1zM1431 123h1v1h-1zM1434 123h1v1h-1zM1437 123h1v1h-1zM1440 123h1v1h-1zM1443 123h1v1h-1zM1446 123h1v1h-1zM1449 123h1v1h-1zM1452 123h1v1h-1zM1455 123h1v1h-1zM1458 123h1v1h-1zM1461 123h1v1h-1zM1464 123h1v1h-1zM1467 123h1v1h-1zM1470 123h1v1h-1zM1473 123h1v1h-1zM1476 123h1v1h-1zM1479 123h1v1h-1zM1482 123h1v1h-1zM1485 123h1v1h-1zM1488 123h1v1h-1zM1491 123h1v1h-1zM1494 123h1v1h-1zM1497 123h1v1h-1zM1500 123h1v1h-1zM1503 123h1v1h-1zM1506 123h1v1h-1zM1509 123h1v1h-1zM1512 123h1v1h-1zM1515 123h1v1h-1zM1518 123h1v1h-1zM1521 123h1v1h-1zM1524 123h1v1h-1zM1527 123h1v1h-1zM1530 123h1v1h-1zM1533 123h1v1h-1zM1536 123h1v1h-1zM1539 123h1v1h-1zM1542 123h1v1h-1zM1545 123h1v1h-1zM1548 123h1v1h-1zM1551 123h1v1h-1zM1554 123h1v1h-1zM1557 123h1v1h-1zM1560 123h1v1h-1zM1563 123h1v1h-1zM1566 123h1v1h-1zM1569 123h1v1h-1zM1572 123h1v1h-1zM1575 123h1v1h-1zM1578 123h1v1h-1zM1581 123h1v1h-1zM1584 123h1v1h-1zM1587 123h1v1h-1zM1590 123h1v1h-1zM1593 123h1v1h-1zM1596 123h1v1h-1zM1599 123h1v1h-1zM1602 123h1v1h-1zM1605 123h1v1h-1zM1608 123h1v1h-1zM1611 123h1v1h-1zM1614 123h1v1h-1zM1617 123h1v1h-1zM1620 123h1v1h-1zM1623 123h1v1h-1zM1626 123h1v1h-1zM1629 123h1v1h-1zM1632 123h1v1h-1zM1635 123h1v1h-1zM1638 123h1v1h-1zM1641 123h1v1h-1zM1644 123h1v1h-1zM1647 123h1v1h-1zM1650 123h1v1h-1zM1653 123h1v1h-1zM1656 123h1v1h-1zM1659 123h1v1h-1zM1662 123h1v1h-1zM1665 123h1v1h-1zM1668 123h1v1h-1zM1671 123h1v1h-1zM1674 123h1v1h-1zM1677 123h1v1h-1zM1680 123h1v1h-1zM1683 123h1v1h-1zM1686 123h1v1h-1zM1689 123h1v1h-1zM1692 123h1v1h-1zM1695 123h1v1h-1zM1698 123h1v1h-1zM1701 123h1v1h-1zM1704 123h1v1h-1zM1707 123h1v1h-1zM1710 123h1v1h-1zM1713 123h1v1h-1zM1716 123h1v1h-1zM1719 123h1v1h-1zM1722 123h1v1h-1zM1725 123h1v1h-1zM1728 123h1v1h-1zM1731 123h1v1h-1zM1734 123h1v1h-1zM1737 123h1v1h-1zM1740 123h1v1h-1zM1743 123h1v1h-1zM1746 123h1v1h-1zM1749 123h1v1h-1zM1752 123h1v1h-1zM1755 123h1v1h-1zM1758 123h1v1h-1zM1761 123h1v1h-1zM1764 123h1v1h-1zM1767 123h1v1h-1zM1770 123h1v1h-1zM1773 123h1v1h-1zM1776 123h1v1h-1zM1779 123h1v1h-1zM1782 123h1v1h-1zM1785 123h1v1h-1zM1788 123h1v1h-1zM1791 123h1v1h-1zM1794 123h1v1h-1zM1797 123h1v1h-1zM1800 123h1v1h-1zM1803 123h1v1h-1zM1806 123h1v1h-1zM1809 123h1v1h-1zM1812 123h1v1h-1zM1815 123h1v1h-1zM1818 123h1v1h-1zM1821 123h1v1h-1zM1824 123h1v1h-1zM1827 123h1v1h-1zM1830 123h1v1h-1zM1833 123h1v1h-1zM1836 123h1v1h-1zM1839 123h1v1h-1zM1842 123h1v1h-1zM1845 123h1v1h-1zM1848 123h1v1h-1zM1851 123h1v1h-1zM1854 123h1v1h-1zM1857 123h1v1h-1zM1860 123h1v1h-1zM1863 123h1v1h-1zM1866 123h1v1h-1zM1869 123h1v1h-1zM1872 123h1v1h-1zM1875 123h1v1h-1zM1878 123h1v1h-1zM1881 123h1v1h-1zM1884 123h1v1h-1zM1887 123h1v1h-1zM1890 123h1v1h-1zM1893 123h1v1h-1zM1896 123h1v1h-1zM1899 123h1v1h-1zM1902 123h1v1h-1zM1905 123h1v1h-1zM1908 123h1v1h-1zM1911 123h1v1h-1zM1914 123h1v1h-1zM1917 123h1v1h-1zM1920 123h1v1h-1zM1923 123h1v1h-1zM1926 123h1v1h-1zM1929 123h1v1h-1zM1932 123h1v1h-1zM1935 123h1v1h-1zM1938 123h1v1h-1zM1941 123h1v1h-1zM1944 123h1v1h-1zM1947 123h1v1h-1zM1950 123h1v1h-1zM1953 123h1v1h-1zM1956 123h1v1h-1zM1959 123h1v1h-1zM1962 123h1v1h-1zM1965 123h1v1h-1zM1968 123h1v1h-1zM1971 123h1v1h-1zM1974 123h1v1h-1zM1977 123h1v1h-1zM1980 123h1v1h-1zM1983 123h1v1h-1zM1986 123h1v1h-1zM1989 123h1v1h-1zM1992 123h1v1h-1zM1995 123h1v1h-1zM1998 123h1v1h-1zM2001 123h1v1h-1zM2004 123h1v1h-1zM2007 123h1v1h-1zM2010 123h1v1h-1zM2013 123h1v1h-1zM2016 123h1v1h-1zM2019 123h1v1h-1zM2022 123h1v1h-1zM2025 123h1v1h-1zM2028 123h1v1h-1zM2031 123h1v1h-1zM2034 123h1v1h-1zM2037 123h1v1h-1zM2040 123h1v1h-1zM2043 123h1v1h-1zM2046 123h1v1h-1zM2049 123h1v1h-1zM2052 123h1v1h-1zM2055 123h1v1h-1zM2058 123h1v1h-1zM2061 123h1v1h-1zM2064 123h1v1h-1zM2067 123h1v1h-1zM2070 123h1v1h-1zM2073 123h1v1h-1zM2076 123h1v1h-1zM2079 123h1v1h-1zM2082 123h1v1h-1zM2085 123h1v1h-1zM2088 123h1v1h-1zM2091 123h1v1h-1zM2094 123h1v1h-1zM2097 123h1v1h-1zM2100 123h1v1h-1zM2103 123h1v1h-1zM2106 123h1v1h-1zM2109 123h1v1h-1zM2112 123h1v1h-1zM2115 123h1v1h-1zM2118 123h1v1h-1zM2121 123h1v1h-1zM2124 123h1v1h-1zM2127 123h1v1h-1zM2130 123h1v1h-1zM2133 123h1v1h-1zM2136 123h1v1h-1zM2139 123h1v1h-1zM2142 123h1v1h-1zM2145 123h1v1h-1zM2148 123h1v1h-1zM2151 123h1v1h-1zM2154 123h1v1h-1zM2157 123h1v1h-1zM2160 123h1v1h-1zM2163 123h1v1h-1zM2166 123h1v1h-1zM2169 123h1v1h-1zM2172 123h1v1h-1zM2175 123h1v1h-1zM2178 123h1v1h-1zM2181 123h1v1h-1z"/>
</g>
<g class="c" fill="#9598a1">
<path d="M0 838h5v1h-5zM11 838h5v1h-5zM22 838h5v1h-5zM33 838h5v1h-5zM44 838h5v1h-5zM55 838h5v1h-5zM66 838h5v1h-5zM77 838h5v1h-5zM88 838h5v1h-5zM99 838h5v1h-5zM110 838h5v1h-5zM121 838h5v1h-5zM132 838h5v1h-5zM143 838h5v1h-5zM154 838h5v1h-5zM165 838h5v1h-5zM176 838h5v1h-5zM187 838h5v1h-5zM198 838h5v1h-5zM209 838h5v1h-5zM220 838h5v1h-5zM231 838h5v1h-5zM242 838h5v1h-5zM253 838h5v1h-5zM264 838h5v1h-5zM275 838h5v1h-5zM286 838h5v1h-5zM297 838h5v1h-5zM308 838h5v1h-5zM319 838h5v1h-5zM330 838h5v1h-5zM341 838h5v1h-5zM352 838h5v1h-5zM363 838h5v1h-5zM374 838h5v1h-5zM385 838h5v1h-5zM396 838h5v1h-5zM407 838h5v1h-5zM418 838h5v1h-5zM429 838h5v1h-5zM440 838h5v1h-5zM451 838h5v1h-5zM462 838h5v1h-5zM473 838h5v1h-5zM484 838h5v1h-5zM495 838h5v1h-5zM506 838h5v1h-5zM517 838h5v1h-5zM528 838h5v1h-5zM539 838h5v1h-5zM550 838h5v1h-5zM561 838h5v1h-5zM572 838h5v1h-5zM583 838h5v1h-5zM594 838h5v1h-5zM605 838h5v1h-5zM616 838h5v1h-5zM627 838h5v1h-5zM638 838h5v1h-5zM649 838h5v1h-5zM660 838h5v1h-5zM671 838h5v1h-5zM682 838h5v1h-5zM693 838h5v1h-5zM704 838h5v1h-5zM715 838h5v1h-5zM726 838h5v1h-5zM737 838h5v1h-5zM748 838h5v1h-5zM759 838h5v1h-5zM770 838h5v1h-5zM781 838h5v1h-5zM792 838h5v1h-5zM803 838h5v1h-5zM814 838h5v1h-5zM825 838h5v1h-5zM836 838h5v1h-5zM847 838h5v1h-5zM858 838h5v1h-5zM869 838h5v1h-5zM880 838h5v1h-5zM891 838h5v1h-5zM902 838h5v1h-5zM913 838h5v1h-5zM924 838h5v1h-5zM935 838h5v1h-5zM946 838h5v1h-5zM957 838h5v1h-5zM968 838h5v1h-5zM979 838h5v1h-5zM990 838h5v1h-5zM1001 838h5v1h-5zM1012 838h5v1h-5zM1023 838h5v1h-5zM1034 838h5v1h-5zM1045 838h5v1h-5zM1056 838h5v1h-5zM1067 838h5v1h-5zM1078 838h5v1h-5zM1089 838h5v1h-5zM1100 838h5v1h-5zM1111 838h5v1h-5zM1122 838h5v1h-5zM1133 838h5v1h-5zM1144 838h5v1h-5zM1155 838h5v1h-5zM1166 838h5v1h-5zM1177 838h5v1h-5zM1188 838h5v1h-5zM1199 838h5v1h-5zM1210 838h5v1h-5zM1221 838h5v1h-5zM1232 838h5v1h-5zM1243 838h5v1h-5zM1254 838h5v1h-5zM1265 838h5v1h-5zM1276 838h5v1h-5zM1287 838h5v1h-5zM1298 838h5v1h-5zM1309 838h5v1h-5zM1320 838h5v1h-5zM1331 838h5v1h-5zM1342 838h5v1h-5zM1353 838h5v1h-5zM1364 838h5v1h-5zM1375 838h5v1h-5zM1386 838h5v1h-5zM1397 838h5v1h-5zM1408 838h5v1h-5zM1419 838h5v1h-5zM1430 838h5v1h-5zM1441 838h5v1h-5zM1452 838h5v1h-5zM1463 838h5v1h-5zM1474 838h5v1h-5zM1485 838h5v1h-5zM1496 838h5v1h-5zM1507 838h5v1h-5zM1518 838h5v1h-5zM1529 838h5v1h-5zM1540 838h5v1h-5zM1551 838h5v1h-5zM1562 838h5v1h-5zM1573 838h5v1h-5zM1584 838h5v1h-5zM1595 838h5v1h-5zM1606 838h5v1h-5zM1617 838h5v1h-5zM1628 838h5v1h-5zM1639 838h5v1h-5zM1650 838h5v1h-5zM1661 838h5v1h-5zM1672 838h5v1h-5zM1683 838h5v1h-5zM1694 838h5v1h-5zM1705 838h5v1h-5zM1716 838h5v1h-5zM1727 838h5v1h-5zM1738 838h5v1h-5zM1749 838h5v1h-5zM1760 838h5v1h-5zM1771 838h5v1h-5zM1782 838h5v1h-5zM1793 838h5v1h-5zM1804 838h5v1h-5zM1815 838h5v1h-5zM1826 838h5v1h-5zM1837 838h5v1h-5zM1848 838h5v1h-5zM1859 838h5v1h-5zM1870 838h5v1h-5zM1881 838h5v1h-5zM1892 838h5v1h-5zM1903 838h5v1h-5zM1914 838h5v1h-5zM1925 838h5v1h-5zM1936 838h5v1h-5zM1947 838h5v1h-5zM1958 838h5v1h-5zM1969 838h5v1h-5zM1980 838h5v1h-5zM1991 838h5v1h-5zM2002 838h5v1h-5zM2013 838h5v1h-5zM2024 838h5v1h-5zM2035 838h5v1h-5zM2046 838h5v1h-5zM2057 838h5v1h-5zM2068 838h5v1h-5zM2079 838h5v1h-5zM2090 838h5v1h-5zM2101 838h5v1h-5zM2112 838h5v1h-5zM2123 838h5v1h-5zM2134 838h5v1h-5zM2145 838h5v1h-5zM2156 838h5v1h-5z"/>
<path d="M1316 -1h1v5h-1zM1316 10h1v5h-1zM1316 21h1v5h-1zM1316 32h1v5h-1zM1316 43h1v5h-1zM1316 54h1v5h-1zM1316 65h1v5h-1zM1316 76h1v5h-1zM1316 87h1v5h-1zM1316 98h1v5h-1zM1316 109h1v5h-1zM1316 120h1v5h-1zM1316 131h1v5h-1zM1316 142h1v5h-1zM1316 153h1v5h-1zM1316 164h1v5h-1zM1316 175h1v5h-1zM1316 186h1v5h-1zM1316 197h1v5h-1zM1316 208h1v5h-1zM1316 219h1v5h-1zM1316 230h1v5h-1zM1316 241h1v5h-1zM1316 252h1v5h-1zM1316 263h1v5h-1zM1316 274h1v5h-1zM1316 285h1v5h-1zM1316 296h1v5h-1zM1316 307h1v5h-1zM1316 318h1v5h-1zM1316 329h1v5h-1zM1316 340h1v5h-1zM1316 351h1v5h-1zM1316 362h1v5h-1zM1316 373h1v5h-1zM1316 384h1v5h-1zM1316 395h1v5h-1zM1316 406h1v5h-1zM1316 417h1v5h-1zM1316 428h1v5h-1zM1316 439h1v5h-1zM1316 450h1v5h-1zM1316 461h1v5h-1zM1316 472h1v5h-1zM1316 483h1v5h-1zM1316 494h1v5h-1zM1316 505h1v5h-1zM1316 516h1v5h-1zM1316 527h1v5h-1zM1316 538h1v5h-1zM1316 549h1v5h-1zM1316 560h1v5h-1zM1316 571h1v5h-1zM1316 582h1v5h-1zM1316 593h1v5h-1zM1316 604h1v5h-1zM1316 615h1v5h-1zM1316 626h1v5h-1zM1316 637h1v5h-1zM1316 648h1v5h-1zM1316 659h1v5h-1zM1316 670h1v5h-1zM1316 681h1v5h-1zM1316 692h1v5h-1zM1316 703h1v5h-1zM1316 714h1v5h-1zM1316 725h1v5h-1zM1316 736h1v5h-1zM1316 747h1v5h-1zM1316 758h1v5h-1zM1316 769h1v5h-1zM1316 780h1v5h-1zM1316 791h1v5h-1zM1316 802h1v5h-1zM1316 813h1v5h-1zM1316 824h1v5h-1zM1316 835h1v5h-1zM1316 846h1v5h-1zM1316 857h1v5h-1zM1316 868h1v5h-1zM1316 879h1v5h-1zM1316 890h1v5h-1zM1316 901h1v5h-1zM1316 912h1v5h-1zM1316 923h1v5h-1zM1316 934h1v5h-1zM1316 945h1v5h-1zM1316 956h1v5h-1zM1316 967h1v5h-1zM1316 978h1v5h-1zM1316 989h1v5h-1zM1316 1000h1v5h-1zM1316 1011h1v5h-1zM1316 1022h1v5h-1zM1316 1033h1v5h-1zM1316 1044h1v5h-1zM1316 1055h1v5h-1zM1316 1066h1v5h-1zM1316 1077h1v5h-1z"/>
</g>
<rect x="4" y="2" width="741" height="26" fill="#fff" fill-opacity="0.5"/>
<circle cx="18" cy="15" r="9" fill="#d69a00"/>
<path d="M16.5 11.1h3.2l1.9 2.8h-6.7zM12.8 15.2h3.2l1.3 2.9h-6.2zM20 15.2h3.3l1.8 2.9h-6.3z" fill="#fff"/>
<text transform="translate(30.92 20.90) scale(0.07800 0.08188)" font-size="200" fill="#131722" stroke="#131722" stroke-width="1.5">Gold</text>
<text transform="translate(68.93 20.90) scale(0.07438 0.08188)" font-size="200" fill="#131722" stroke="#131722" stroke-width="1.5">Spot</text>
<text transform="translate(107.51 20.90) scale(0.09417 0.08188)" font-size="200" fill="#131722" stroke="#131722" stroke-width="1.5">/</text>
<text transform="translate(117.82 20.90) scale(0.07893 0.08188)" font-size="200" fill="#131722" stroke="#131722" stroke-width="1.5">U.S.</text>
<text transform="translate(152.49 20.90) scale(0.08175 0.08188)" font-size="200" fill="#131722" stroke="#131722" stroke-width="1.5">Dollar</text>
<text transform="translate(207.73 20.90) scale(0.07143 0.08188)" font-size="200" fill="#131722" stroke="#131722" stroke-width="1.5">1D</text>
<text transform="translate(237.47 20.90) scale(0.06952 0.08188)" font-size="200" fill="#131722" stroke="#131722" stroke-width="1.5">OANDA</text>
<rect x="199.9" y="14.3" width="2.2" height="2.3" fill="#131722" fill-opacity="0.9"/>
<rect x="230.5" y="14.3" width="2.2" height="2.3" fill="#131722" fill-opacity="0.9"/>
<path d="M311 6.2h11v17.7h-11a8.85 8.85 0 0 1 0-17.7z" fill="#089981" fill-opacity="0.13"/>
<path d="M322 6.2h10.9a8.85 8.85 0 0 1 0 17.7h-10.9z" fill="#e91e63" fill-opacity="0.15"/>
<circle cx="312.9" cy="14.8" r="4" fill="#089981"/>
<path d="M327.2 14.3c1.1-1.7 2.5-1.9 3.9-1.1s2.7.8 3.8-1M327.2 17.9c1.1-1.7 2.5-1.9 3.9-1.1s2.7.8 3.8-1" fill="none" stroke="#e2185b" stroke-width="1.5"/>
<text transform="translate(358.05 20.00) scale(0.06131 0.06286)" font-size="200" fill="#131722">O</text>
<text transform="translate(368.56 20.00) scale(0.06415 0.06286)" font-size="200" fill="#22ab94" stroke="#22ab94" stroke-width="3">2,655.950</text>
<text transform="translate(431.37 20.00) scale(0.05841 0.06286)" font-size="200" fill="#131722">H</text>
<text transform="translate(441.86 20.00) scale(0.06357 0.06286)" font-size="200" fill="#22ab94" stroke="#22ab94" stroke-width="3">2,670.240</text>
<text transform="translate(504.15 20.00) scale(0.05955 0.06286)" font-size="200" fill="#131722">L</text>
<text transform="translate(511.96 20.00) scale(0.06388 0.06286)" font-size="200" fill="#22ab94" stroke="#22ab94" stroke-width="3">2,632.015</text>
<text transform="translate(575.07 20.00) scale(0.05276 0.06286)" font-size="200" fill="#131722">C</text>
<text transform="translate(583.86 20.00) scale(0.06415 0.06286)" font-size="200" fill="#22ab94" stroke="#22ab94" stroke-width="3">2,653.840</text>
<text transform="translate(647.45 20.00) scale(0.06140 0.06286)" font-size="200" fill="#22ab94" stroke="#22ab94" stroke-width="3">−2.270</text>
<text transform="translate(690.80 20.00) scale(0.05819 0.06286)" font-size="200" fill="#22ab94" stroke="#22ab94" stroke-width="3">(−0.09%)</text>
<rect x="8.6" y="31.6" width="77.8" height="32.8" rx="4.3" fill="#fff" stroke="#f23645" stroke-width="1.2"/>
<text transform="translate(18.78 46.00) scale(0.06567 0.06357)" font-size="200" fill="#f23645" stroke="#f23645" stroke-width="4">2,754.28</text>
<text transform="translate(69.92 44.00) scale(0.05361 0.04929)" font-size="200" fill="#f23645" stroke="#f23645" stroke-width="4">0</text>
<text transform="translate(35.06 59.95) scale(0.04926 0.05652)" font-size="200" fill="#f23645" stroke="#f23645" stroke-width="4">SELL</text>
<text transform="translate(94.75 52.00) scale(0.05066 0.05071)" font-size="200" fill="#131722" stroke="#131722" stroke-width="3">47.0</text>
<rect x="122.6" y="31.6" width="77.8" height="32.8" rx="4.3" fill="#fff" stroke="#2962ff" stroke-width="1.2"/>
<text transform="translate(133.42 46.00) scale(0.06555 0.06357)" font-size="200" fill="#2962ff" stroke="#2962ff" stroke-width="4">2,754.75</text>
<text transform="translate(184.32 44.00) scale(0.05464 0.04929)" font-size="200" fill="#2962ff" stroke="#2962ff" stroke-width="4">0</text>
<text transform="translate(150.85 59.90) scale(0.05107 0.05616)" font-size="200" fill="#2962ff" stroke="#2962ff" stroke-width="4">BUY</text>
<rect x="2126.5" y="3.5" width="23" height="23" rx="3.5" fill="#fff" fill-opacity="0.8" stroke="#d1d4dc"/>
<rect x="2154.5" y="3.5" width="23" height="23" rx="3.5" fill="#fff" fill-opacity="0.8" stroke="#d1d4dc"/>
<path d="M2138.4 11v9.2M2134.3 16.2l4.1 4.2 4.3-4.2" fill="none" stroke="#131722" stroke-width="1.2"/>
<path d="M2161.5 14v-1a2.5 2.5 0 0 1 2.5-2.5h5a2.5 2.5 0 0 1 2.5 2.5v1M2161.5 17v1a2.5 2.5 0 0 0 2.5 2.5h5a2.5 2.5 0 0 0 2.5-2.5v-1" fill="none" stroke="#131722" stroke-width="1.2"/>
<rect class="c" x="2182" y="0" width="70" height="1080" fill="#fff"/>
<rect class="c" x="2182" y="0" width="1" height="1080" fill="#dee0e5"/>
<rect x="2186.5" y="3.5" width="63" height="25" rx="4" fill="#fff" stroke="#e0e3eb"/>
<text transform="translate(2189.33 19.90) scale(0.05101 0.06377)" font-size="200" fill="#131722">USD</text>
<path d="M2239.9 15.5l2.5 2.4 2.5-2.4" fill="none" stroke="#131722" stroke-width="1.2"/>
<text transform="translate(2190.80 63.70) scale(0.05956 0.06614)" font-size="200" fill="#131722">2,780.000</text>
<text transform="translate(2190.80 112.97) scale(0.05956 0.06614)" font-size="200" fill="#131722">2,760.000</text>
<text transform="translate(2190.80 162.24) scale(0.05956 0.06614)" font-size="200" fill="#131722">2,740.000</text>
<text transform="translate(2190.80 211.51) scale(0.05956 0.06614)" font-size="200" fill="#131722">2,720.000</text>
<text transform="translate(2190.80 260.78) scale(0.05956 0.06614)" font-size="200" fill="#131722">2,700.000</text>
<text transform="translate(2190.80 310.05) scale(0.05956 0.06614)" font-size="200" fill="#131722">2,680.000</text>
<text transform="translate(2190.80 359.32) scale(0.05956 0.06614)" font-size="200" fill="#131722">2,660.000</text>
<text transform="translate(2190.80 408.59) scale(0.05956 0.06614)" font-size="200" fill="#131722">2,640.000</text>
<text transform="translate(2190.80 457.86) scale(0.05956 0.06614)" font-size="200" fill="#131722">2,620.000</text>
<text transform="translate(2190.80 507.13) scale(0.05956 0.06614)" font-size="200" fill="#131722">2,600.000</text>
<text transform="translate(2190.80 556.40) scale(0.05956 0.06614)" font-size="200" fill="#131722">2,580.000</text>
<text transform="translate(2190.80 605.67) scale(0.05956 0.06614)" font-size="200" fill="#131722">2,560.000</text>
<text transform="translate(2190.80 654.94) scale(0.05956 0.06614)" font-size="200" fill="#131722">2,540.000</text>
<text transform="translate(2190.80 704.21) scale(0.05956 0.06614)" font-size="200" fill="#131722">2,520.000</text>
<text transform="translate(2190.80 753.48) scale(0.05956 0.06614)" font-size="200" fill="#131722">2,500.000</text>
<text transform="translate(2190.80 802.75) scale(0.05956 0.06614)" font-size="200" fill="#131722">2,480.000</text>
<text transform="translate(2190.80 852.02) scale(0.05956 0.06614)" font-size="200" fill="#131722">2,460.000</text>
<text transform="translate(2190.80 901.29) scale(0.05956 0.06614)" font-size="200" fill="#131722">2,440.000</text>
<text transform="translate(2190.80 950.56) scale(0.05956 0.06614)" font-size="200" fill="#131722">2,420.000</text>
<text transform="translate(2190.80 999.83) scale(0.05956 0.06614)" font-size="200" fill="#131722">2,400.000</text>
<text transform="translate(2190.80 1049.10) scale(0.05956 0.06614)" font-size="200" fill="#131722">2,380.000</text>
<path d="M2183 70h64.2a2 2 0 0 1 2 2v13a2 2 0 0 1-2 2h-64.2z" fill="#5d606b"/>
<text transform="translate(2191.04 81.80) scale(0.05929 0.06714)" font-size="200" fill="#fff" font-weight="bold">2,772.589</text>
<path d="M2183 159h64.2a2 2 0 0 1 2 2v13a2 2 0 0 1-2 2h-64.2z" fill="#5d606b"/>
<text transform="translate(2191.04 170.80) scale(0.05929 0.06714)" font-size="200" fill="#fff" font-weight="bold">2,736.596</text>
<path d="M2183 195h64.2a2 2 0 0 1 2 2v13a2 2 0 0 1-2 2h-64.2z" fill="#5d606b"/>
<text transform="translate(2191.05 206.80) scale(0.05916 0.06714)" font-size="200" fill="#fff" font-weight="bold">2,721.908</text>
<path d="M2183 371h64.2a2 2 0 0 1 2 2v13a2 2 0 0 1-2 2h-64.2z" fill="#5d606b"/>
<text transform="translate(2191.04 382.80) scale(0.05936 0.06714)" font-size="200" fill="#fff" font-weight="bold">2,650.407</text>
<path d="M2183 115h64a2 2 0 0 1 2 2v27a2 2 0 0 1-2 2h-64z" fill="#e91e63"/>
<text transform="translate(2191.04 127.10) scale(0.05929 0.06500)" font-size="200" fill="#fff" font-weight="bold">2,754.440</text>
<text transform="translate(2190.69 140.90) scale(0.06074 0.06143)" font-size="200" fill="#fff" fill-opacity="0.88" stroke="#fff" stroke-opacity="0.88" stroke-width="7">18:22:07</text>
<path d="M2163 828h19v21h-19a2 2 0 0 1-2-2v-17a2 2 0 0 1 2-2z" fill="#131722"/>
<path d="M2183 828h64a2 2 0 0 1 2 2v17a2 2 0 0 1-2 2h-64z" fill="#131722"/>
<circle cx="2171.5" cy="838.5" r="7.7" fill="none" stroke="#fff" stroke-width="1.3"/>
<path d="M2171.5 834.8v7.4M2167.8 838.5h7.4" stroke="#fff" stroke-width="1.2" fill="none"/>
<text transform="translate(2190.65 842.10) scale(0.05848 0.07143)" font-size="200" fill="#fff" font-weight="bold">2,464.201</text>
</svg></body></html>
